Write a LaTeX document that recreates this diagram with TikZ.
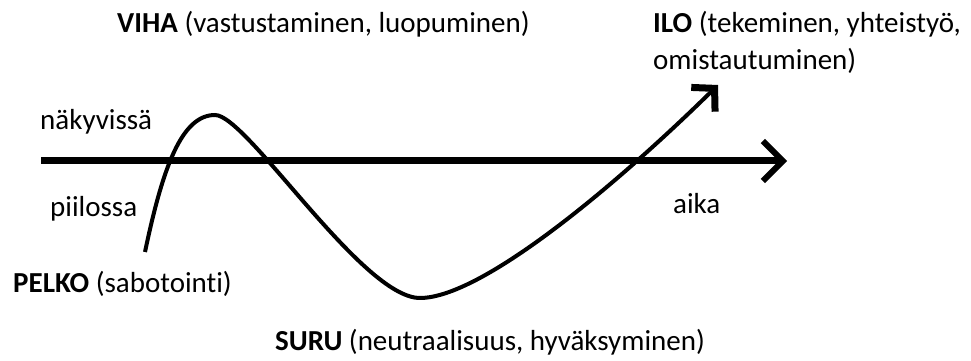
\documentclass[tikz,border=0pt]{standalone}
\usepackage{fontspec}
\setmainfont{Carlito}[Ligatures={NoCommon,NoDiscretionary}]
\usetikzlibrary{arrows.meta}
\begin{document}
\begin{tikzpicture}[x=1pt,y=1pt,
  lbl/.style={anchor=base west,inner sep=0pt,font=\fontsize{29}{35}\selectfont},
  axisline/.style={line width=7pt,-{Straight Barb[length=20pt,width=40pt,line width=6pt]}},
  wave/.style={line width=4pt,-{Straight Barb[length=16pt,width=34pt,line width=7pt]}}]
\useasboundingbox (0,0) rectangle (971,361);
\coordinate (axs) at (41,200);
\coordinate (axe) at (787,200);
\draw[axisline] (axs) -- (axe);
\coordinate (w0) at (145,109);
\coordinate (wpk) at (215,246);
\coordinate (wmin) at (420,63);
\coordinate (wend) at (718,276);
\draw[wave] (w0) .. controls (163,195) and (182,246) .. (wpk)
  .. controls (247,246) and (362,63) .. (wmin)
  .. controls (480,63) and (610,170) .. (wend);
\node[lbl] (viha) at (117,328) {\textbf{VIHA} (vastustaminen, luopuminen)};
\node[lbl] (ilo) at (653,328) {\textbf{ILO} (tekeminen, yhteistyö,};
\node[lbl] (ilo2) at (653,291) {omistautuminen)};
\node[lbl] (nak) at (40,231) {näkyvissä};
\node[lbl] (pii) at (50,144) {piilossa};
\node[lbl] (aika) at (673,147) {aika};
\node[lbl] (pelko) at (13,68) {\textbf{PELKO} (sabotointi)};
\node[lbl] (suru) at (275,10) {\textbf{SURU} (neutraalisuus, hyväksyminen)};
\end{tikzpicture}
\end{document}
